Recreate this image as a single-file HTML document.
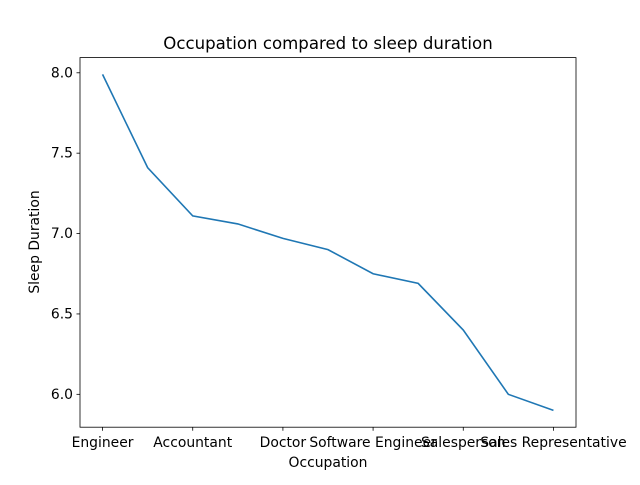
<!DOCTYPE html>
<html><head><meta charset="utf-8"><style>
body{margin:0;background:#fff;}
svg text{font-family:"DejaVu Sans","Liberation Sans",sans-serif;fill:#000;}
</style></head><body>
<svg id="chart" width="640" height="480" xmlns="http://www.w3.org/2000/svg">
<rect width="640" height="480" fill="#fff"/>
<text x="328" y="49" font-size="16.6" text-anchor="middle">Occupation compared to sleep duration</text>
<text x="328" y="467" font-size="13.9" text-anchor="middle">Occupation</text>
<text transform="translate(39,242) rotate(-90)" font-size="13.9" text-anchor="middle">Sleep Duration</text>
<g id="ticks"></g>
<path id="line" fill="none" stroke="#1f77b4" stroke-width="1.6"/>
<rect x="80" y="57.6" width="496" height="369.6" fill="none" stroke="#000" stroke-width="0.8"/>
</svg>
<script>
const categories=["Engineer","Lawyer","Accountant","Nurse","Doctor","Manager","Software Engineer","Teacher","Salesperson","Scientist","Sales Representative"];
const sleepValues=[7.99,7.41,7.11,7.06,6.97,6.90,6.75,6.69,6.40,6.00,5.90];
const yTicks=[6.0,6.5,7.0,7.5,8.0];
const L=80,R=576,T=57.6,B=427.2;
const n=categories.length;
const xs=(R-L)/(n-1+1);
function x(i){return L+(i+0.5)*xs;}
const mn=Math.min(...sleepValues),mx=Math.max(...sleepValues),pad=(mx-mn)*0.05;
function y(v){return B-(v-(mn-pad))/((mx+pad)-(mn-pad))*(B-T);}
const ns="http://www.w3.org/2000/svg";
const g=document.getElementById('ticks');
function mk(t,a){const e=document.createElementNS(ns,t);for(const k in a)e.setAttribute(k,a[k]);return e;}
yTicks.forEach(v=>{
 const yy=y(v);
 const l=mk('line',{x1:L-3.5,x2:L,y1:yy,y2:yy,stroke:'#000','stroke-width':0.8});
 
 
 g.appendChild(l);
 const t=mk('text',{x:L-7,y:yy+4.5,'font-size':13.9,'text-anchor':'end'});
 
 
 t.textContent=v.toFixed(1);g.appendChild(t);
});
categories.forEach((c,i)=>{
 if(i%2) return;
 const xx=x(i);
 const l=mk('line',{x1:xx,x2:xx,y1:B,y2:B+3.5,stroke:'#000','stroke-width':0.8});
 
 
 g.appendChild(l);
 const t=mk('text',{x:xx,y:B+20,'font-size':13.9,'text-anchor':'middle'});
 
 
 t.textContent=c;g.appendChild(t);
});
document.getElementById('line').setAttribute('d',sleepValues.map((v,i)=>(i?'L':'M')+x(i).toFixed(2)+','+y(v).toFixed(2)).join(''));
</script>
</body></html>
